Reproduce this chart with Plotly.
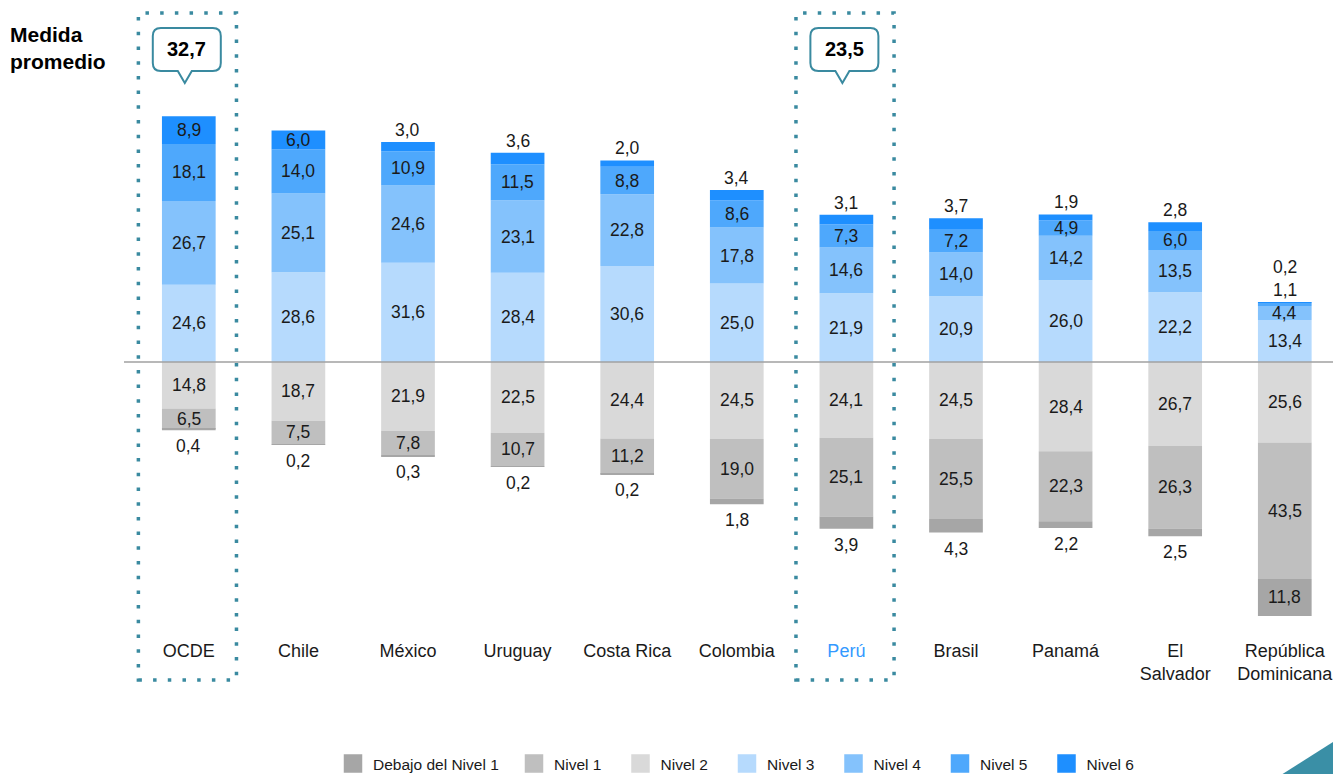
import plotly.graph_objects as go

# ---------------- data ----------------
countries = ["OCDE", "Chile", "México", "Uruguay", "Costa Rica", "Colombia",
             "Perú", "Brasil", "Panamá", "El Salvador", "República Dominicana"]
tick_labels = ["OCDE", "Chile", "México", "Uruguay", "Costa Rica", "Colombia",
               "<span style='color:#3399ff'>Perú</span>", "Brasil", "Panamá",
               "El<br>Salvador", "República<br>Dominicana"]
debajo_n1 = [0.4, 0.2, 0.3, 0.2, 0.2, 1.8, 3.9, 4.3, 2.2, 2.5, 11.8]
nivel1 = [6.5, 7.5, 7.8, 10.7, 11.2, 19.0, 25.1, 25.5, 22.3, 26.3, 43.5]
nivel2 = [14.8, 18.7, 21.9, 22.5, 24.4, 24.5, 24.1, 24.5, 28.4, 26.7, 25.6]
nivel3 = [24.6, 28.6, 31.6, 28.4, 30.6, 25.0, 21.9, 20.9, 26.0, 22.2, 13.4]
nivel4 = [26.7, 25.1, 24.6, 23.1, 22.8, 17.8, 14.6, 14.0, 14.2, 13.5, 4.4]
nivel5 = [18.1, 14.0, 10.9, 11.5, 8.8, 8.6, 7.3, 7.2, 4.9, 6.0, 1.1]
nivel6 = [8.9, 6.0, 3.0, 3.6, 2.0, 3.4, 3.1, 3.7, 1.9, 2.8, 0.2]
highlight = {"OCDE": "32,7", "Perú": "23,5"}

names = ["Debajo del Nivel 1", "Nivel 1", "Nivel 2", "Nivel 3", "Nivel 4", "Nivel 5", "Nivel 6"]
colors = ["#a6a6a6", "#bfbfbf", "#d9d9d9", "#b6dafd", "#84c2fc", "#4ea8fc", "#1e8fff"]

FONT = "Liberation Sans, Arial, sans-serif"
TXT = "#1a1a1a"
TEAL = "#3a8aa0"

x = list(range(len(countries)))
fig = go.Figure()

# negative stack order: Nivel 2 nearest zero, then Nivel 1, then Debajo
neg = [(nivel2, 2), (nivel1, 1), (debajo_n1, 0)]
pos = [(nivel3, 3), (nivel4, 4), (nivel5, 5), (nivel6, 6)]
for vals, k in neg:
    fig.add_trace(go.Bar(x=x, y=[-v for v in vals], name=names[k], showlegend=False,
                         marker=dict(color=colors[k], line=dict(width=0)), width=0.49,
                         hoverinfo="skip"))
for vals, k in pos:
    fig.add_trace(go.Bar(x=x, y=vals, name=names[k], showlegend=False,
                         marker=dict(color=colors[k], line=dict(width=0)), width=0.49,
                         hoverinfo="skip"))

# legend entries (square swatches)
for k, nm in enumerate(names):
    fig.add_trace(go.Scatter(x=[None], y=[None], mode="markers", name=nm,
                             legend="legend" if k == 0 else "legend2",
                             marker=dict(symbol="square", size=16, color=colors[k],
                                         line=dict(color=colors[k], width=2.5)),
                             hoverinfo="skip"))

def fmt(v):
    return f"{v:.1f}".replace(".", ",")

ann = []
def lab(i, y, v, shift=0):
    ann.append(dict(x=i, y=y, text=fmt(v), showarrow=False, yshift=shift,
                    font=dict(family=FONT, size=17.5, color=TXT)))

for i in x:
    # negative side
    lab(i, -nivel2[i] / 2, nivel2[i]); b = -nivel2[i]
    lab(i, b - nivel1[i] / 2, nivel1[i]); b -= nivel1[i]
    if debajo_n1[i] < 5:
        lab(i, b - debajo_n1[i], debajo_n1[i], -16)
    else:
        lab(i, b - debajo_n1[i] / 2, debajo_n1[i])
    # positive side
    lab(i, nivel3[i] / 2, nivel3[i]); t = nivel3[i]
    lab(i, t + nivel4[i] / 2, nivel4[i]); t += nivel4[i]
    top = t + nivel5[i] + nivel6[i]
    outside = []
    if nivel5[i] < 2:
        outside += [nivel5[i], nivel6[i]]
    else:
        lab(i, t + nivel5[i] / 2, nivel5[i]); t += nivel5[i]
        if nivel6[i] < 5:
            outside.append(nivel6[i])
        else:
            lab(i, t + nivel6[i] / 2, nivel6[i])
    for j, v in enumerate(outside):
        lab(i, top, v, 12 + 23 * j)

# plot geometry helpers (plot area: y 10..638 px, height 628; x 134..1333)
def py(p):
    return (638 - p) / 628

def pxx(p):
    return (p - 134) / 1199

shapes = []
shapes.append(dict(type="line", xref="paper", yref="y", x0=pxx(124), x1=1.0, y0=0, y1=0,
                   line=dict(color="#a0a0a0", width=1.5), layer="above"))

for c, val in highlight.items():
    i = countries.index(c)
    shapes.append(dict(type="rect", xref="x", yref="paper", x0=i - 0.46, x1=i + 0.435,
                       y0=py(680), y1=py(13),
                       line=dict(color=TEAL, width=3.5, dash="3.5px,11.2px")))
    r = 8
    L, R, B, T = -36, 32, 12, 55
    path = (f"M{L + r},{T} L{R - r},{T} Q{R},{T} {R},{T - r} L{R},{B + r} "
            f"Q{R},{B} {R - r},{B} L3,{B} L-4,0 L-11,{B} L{L + r},{B} "
            f"Q{L},{B} {L},{B + r} L{L},{T - r} Q{L},{T} {L + r},{T} Z")
    shapes.append(dict(type="path", xref="x", yref="paper", xsizemode="pixel",
                       ysizemode="pixel", xanchor=i, yanchor=py(83), path=path,
                       fillcolor="white", line=dict(color=TEAL, width=2)))
    ann.append(dict(x=i, xshift=-2, y=py(49), xref="x", yref="paper", text=f"<b>{val}</b>",
                    xanchor="center", yanchor="middle", showarrow=False,
                    font=dict(family=FONT, size=20, color="black")))

shapes.append(dict(type="path", xref="paper", yref="paper",
                   path=f"M{pxx(1333)},{py(742)} L{pxx(1334)},{py(775)} L{pxx(1281)},{py(775)} Z",
                   fillcolor="#3a8fa6", line=dict(width=0)))

ann.append(dict(xref="paper", yref="paper", x=pxx(8), y=py(48), xanchor="left",
                yanchor="middle", align="left", showarrow=False,
                text="<b>Medida<br>promedio</b>",
                font=dict(family=FONT, size=21, color="black")))

legend_font = dict(family=FONT, size=15.5, color=TXT)
ly = 1 - 764 / 774
fig.update_layout(
    width=1333, height=774,
    margin=dict(l=134, r=0, t=10, b=136),
    paper_bgcolor="white", plot_bgcolor="white",
    barmode="relative",
    showlegend=True,
    legend=dict(orientation="h", xref="container", yref="container",
                x=333 / 1333, y=ly, xanchor="left", yanchor="middle",
                font=legend_font, bgcolor="rgba(0,0,0,0)"),
    legend2=dict(orientation="h", xref="container", yref="container",
                 x=514 / 1333, y=ly, xanchor="left", yanchor="middle",
                 font=legend_font, entrywidth=61.5, bgcolor="rgba(0,0,0,0)"),
    xaxis=dict(range=[-0.5, 10.44], tickmode="array", tickvals=x, ticktext=tick_labels,
               showgrid=False, zeroline=False, showline=False, ticks="",
               ticklabeloverflow="allow", ticklabelstandoff=0,
               tickfont=dict(family=FONT, size=18, color=TXT), fixedrange=True),
    yaxis=dict(range=[-87.9, 112.1], visible=False, fixedrange=True),
    shapes=shapes, annotations=ann,
)

fig.write_html("out.html", config={"displayModeBar": False},
               post_script="document.body.style.margin='0';")
